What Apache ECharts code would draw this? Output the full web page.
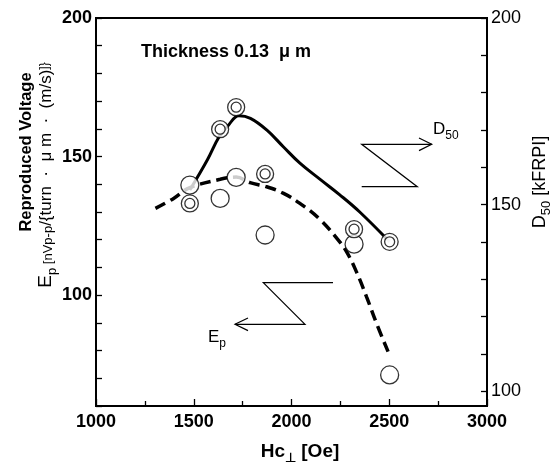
<!DOCTYPE html>
<html><head><meta charset="utf-8">
<script src="https://cdn.jsdelivr.net/npm/echarts@6/dist/echarts.min.js"></script>
<style>html,body{margin:0;padding:0;background:#fff}#c{width:552px;height:462px}</style>
</head><body><div id="c"></div>
<script>
const FONT = "'Liberation Sans', Arial, sans-serif";

// measured points (Hc⊥ in Oe)
const hcMeasured  = [1480, 1635, 1717, 1865, 2320, 2502];
const epMeasured  = [139.7, 134.9, 142.5, 121.7, 118.4, 71.2];    // Ep, left axis
const d50Measured = [150.3, 170.2, 176.1, 158.2, 143.4, 140.0];   // D50, right axis

// trend curves
const epCurveHc  = [1304, 1397, 1477, 1635, 1717, 1788, 1873, 1957, 2041, 2143, 2231, 2282, 2333, 2384, 2435, 2494];
const epCurveVal = [131.3, 134.9, 138.7, 141.8, 142.6, 140.6, 139.1, 136.8, 133.2, 127.5, 120.6, 115.6, 108.3, 99.4, 89.8, 79.6];
const d50CurveHc  = [1480, 1570, 1629, 1672, 1731, 1790, 1873, 1958, 2043, 2145, 2247, 2349, 2502];
const d50CurveVal = [153.9, 162.0, 168.1, 170.9, 173.8, 173.1, 170.0, 165.5, 161.1, 156.8, 152.6, 148.0, 140.0];

const xTickLabels = [1000, 1500, 2000, 2500, 3000];
const leftTickLabels = [100, 150, 200];
const rightTickLabels = [100, 150, 200];
const rightTicks = [100, 110, 120, 130, 140, 150, 160, 170, 180, 190, 200];

const zip = (a, b) => a.map((v, i) => [v, b[i]]);

const chart = echarts.init(document.getElementById('c'), null, {renderer: 'canvas'});

const subText = (x, y, main, sub, size) => ({
  type: 'text', x: x, y: y, z: 100,
  style: {
    text: '{m|' + main + '}{s|' + sub + '}',
    rich: {
      m: {fontSize: size, fontFamily: FONT, fill: '#000', lineHeight: size + 2, verticalAlign: 'bottom'},
      s: {fontSize: Math.round(size * 0.72), fontFamily: FONT, fill: '#000', lineHeight: size + 2, verticalAlign: 'bottom', padding: [0, 0, -4, 0]}
    },
    align: 'left', verticalAlign: 'middle'
  }
});

const tickLine = {color: '#000', width: 1.3};

const option = {
  animation: false,
  backgroundColor: '#fff',
  grid: {left: 96, right: 65, top: 18, bottom: 56, show: true, borderColor: '#000', borderWidth: 2, backgroundColor: 'transparent'},
  xAxis: {
    type: 'value', min: 1000, max: 3000, interval: 500,
    axisLine: {lineStyle: {color: '#000', width: 2}},
    axisTick: {inside: true, length: 7, lineStyle: tickLine},
    minorTick: {show: true, splitNumber: 2, length: 5, lineStyle: tickLine},
    splitLine: {show: false},
    axisLabel: {color: '#000', fontFamily: FONT, fontSize: 18, fontWeight: 'bold', margin: 7,
      customValues: xTickLabels, formatter: v => String(v)}
  },
  yAxis: [{
    type: 'value', min: 60, max: 200, interval: 10, position: 'left',
    axisLine: {lineStyle: {color: '#000', width: 2}},
    axisTick: {inside: true, length: 6, lineStyle: tickLine},
    splitLine: {show: false},
    axisLabel: {color: '#000', fontFamily: FONT, fontSize: 18, fontWeight: 'bold', margin: 4,
      customValues: leftTickLabels, formatter: v => String(v)}
  }, {
    type: 'value', min: 96, max: 200, position: 'right',
    axisLine: {lineStyle: {color: '#000', width: 2}},
    axisTick: {inside: true, length: 6, lineStyle: tickLine, customValues: rightTicks},
    splitLine: {show: false},
    axisLabel: {color: '#000', fontFamily: FONT, fontSize: 18, margin: 4, customValues: rightTickLabels,
      formatter: v => String(v)}
  }],
  series: [
    {type: 'line', yAxisIndex: 0, data: zip(epCurveHc, epCurveVal), smooth: 0.4, symbol: 'none',
      lineStyle: {color: '#000', width: 3.5, type: [11, 6]}, z: 2},
    {type: 'line', yAxisIndex: 1, data: zip(d50CurveHc, d50CurveVal), smooth: 0.4, symbol: 'none',
      lineStyle: {color: '#000', width: 3}, z: 2},
    {type: 'scatter', yAxisIndex: 0, data: zip(hcMeasured, epMeasured), symbol: 'circle', symbolSize: 18,
      itemStyle: {color: '#fff', borderColor: '#000', borderWidth: 1.3}, z: 5},
    {type: 'scatter', yAxisIndex: 1, data: zip(hcMeasured, d50Measured), symbol: 'circle', symbolSize: 17,
      itemStyle: {color: '#fff', borderColor: '#000', borderWidth: 1.3}, z: 6},
    {type: 'scatter', yAxisIndex: 1, data: zip(hcMeasured, d50Measured), symbol: 'circle', symbolSize: 10,
      itemStyle: {color: '#fff', borderColor: '#000', borderWidth: 1.3}, z: 7}
  ],
  graphic: [
    {type: 'text', x: 141, y: 52, z: 100, style: {text: 'Thickness 0.13  μ m', fontFamily: FONT, fontSize: 18, fontWeight: 'bold', fill: '#000', align: 'left', verticalAlign: 'middle'}},
    // left axis titles
    {type: 'text', x: 26, y: 152, rotation: Math.PI / 2, z: 100,
      style: {text: 'Reproduced Voltage', fontFamily: FONT, fontSize: 16.5, fontWeight: 'bold', fill: '#000', align: 'center', verticalAlign: 'middle'}},
    {type: 'text', x: 45, y: 175, rotation: Math.PI / 2, z: 100,
      style: {
        text: '{e|E}{s|p}{k| [nVp-p}{n|/\u007Bturn  ·  μ m  ·  (m/s)\u007D]}',
        rich: {
          e: {fontSize: 19, fontFamily: FONT, fill: '#000', verticalAlign: 'bottom', lineHeight: 20},
          s: {fontSize: 13, fontFamily: FONT, fill: '#000', verticalAlign: 'bottom', lineHeight: 20, padding: [0, 0, -4, 0]},
          k: {fontSize: 13, fontFamily: FONT, fill: '#000', verticalAlign: 'bottom', lineHeight: 20},
          n: {fontSize: 17, fontFamily: FONT, fill: '#000', verticalAlign: 'bottom', lineHeight: 20}
        },
        align: 'center', verticalAlign: 'middle'
      }},
    // right axis title
    {type: 'text', x: 539, y: 182, rotation: Math.PI / 2, z: 100,
      style: {
        text: '{m|D}{s|50}{m| [kFRPI]}',
        rich: {
          m: {fontSize: 18, fontFamily: FONT, fill: '#000', verticalAlign: 'bottom', lineHeight: 20},
          s: {fontSize: 13, fontFamily: FONT, fill: '#000', verticalAlign: 'bottom', lineHeight: 20, padding: [0, 0, -4, 0]}
        },
        align: 'center', verticalAlign: 'middle'
      }},
    // x axis title
    {type: 'text', x: 300, y: 451, z: 100,
      style: {
        text: '{m|Hc}{s|⊥}{m| [Oe]}',
        rich: {
          m: {fontSize: 19, fontFamily: FONT, fontWeight: 'bold', fill: '#000', verticalAlign: 'bottom', lineHeight: 21},
          s: {fontSize: 13, fontFamily: FONT, fontWeight: 'bold', fill: '#000', verticalAlign: 'bottom', lineHeight: 21, padding: [0, 0, -3, 0]}
        },
        align: 'center', verticalAlign: 'middle'
      }},
    // D50 arrow
    {type: 'polyline', z: 100, shape: {points: [[431.7, 144.3], [361.7, 144.3], [417.3, 186.7], [361.7, 186.7]]},
      style: {stroke: '#000', lineWidth: 1.2, fill: null}},
    {type: 'polyline', z: 100, shape: {points: [[419, 138], [431.7, 144.3], [419, 150.6]]},
      style: {stroke: '#000', lineWidth: 1.2, fill: null}},
    subText(433, 128, 'D', '50', 17),
    // Ep arrow
    {type: 'polyline', z: 100, shape: {points: [[333, 282.7], [263.3, 282.7], [305, 324.3], [235, 324.3]]},
      style: {stroke: '#000', lineWidth: 1.2, fill: null}},
    {type: 'polyline', z: 100, shape: {points: [[248, 318], [235, 324.3], [248, 330.6]]},
      style: {stroke: '#000', lineWidth: 1.2, fill: null}},
    subText(208, 336, 'E', 'p', 17)
  ]
};
chart.setOption(option);
</script></body></html>
